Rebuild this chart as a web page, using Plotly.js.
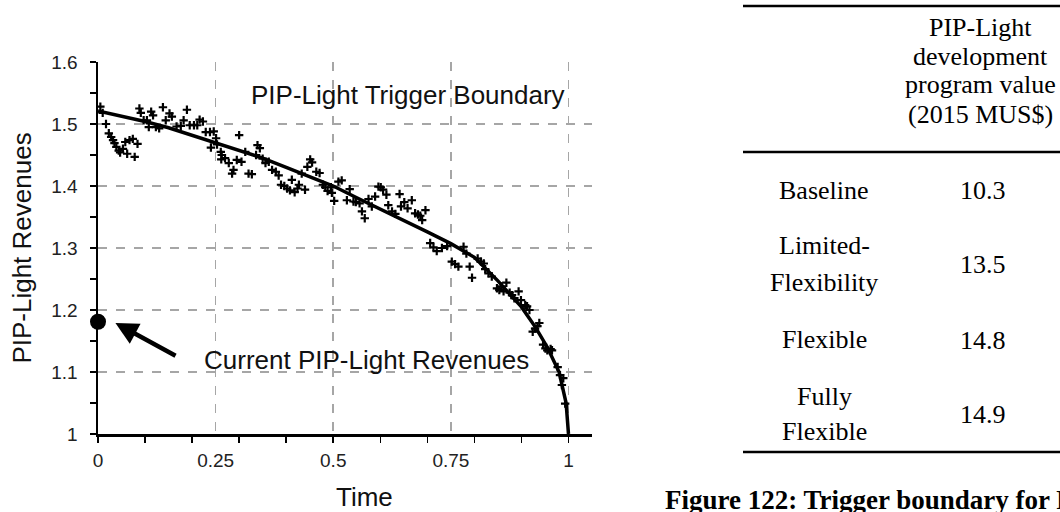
<!DOCTYPE html>
<html>
<head>
<meta charset="utf-8">
<script src="https://cdn.plot.ly/plotly-3.0.1.min.js"></script>
<style>html,body{margin:0;padding:0;background:#fff;}#chart{width:1060px;height:512px;}</style>
</head>
<body>
<div id="chart"></div>
<script>
// ---- Data ----
const scatterX = [0.005,0.010,0.017,0.023,0.028,0.032,0.035,0.039,0.044,0.047,0.053,0.058,0.062,0.067,0.074,0.078,0.084,0.088,0.091,0.097,0.104,0.108,0.113,0.117,0.123,0.130,0.138,0.144,0.152,0.157,0.167,0.176,0.182,0.189,0.195,0.204,0.211,0.216,0.223,0.229,0.238,0.240,0.246,0.251,0.253,0.261,0.263,0.262,0.270,0.278,0.285,0.288,0.295,0.300,0.305,0.313,0.320,0.327,0.336,0.339,0.344,0.350,0.356,0.363,0.370,0.378,0.384,0.389,0.396,0.402,0.408,0.412,0.418,0.424,0.427,0.433,0.440,0.445,0.451,0.455,0.464,0.471,0.478,0.483,0.488,0.495,0.497,0.502,0.511,0.518,0.529,0.535,0.543,0.548,0.556,0.561,0.567,0.575,0.582,0.589,0.596,0.601,0.606,0.613,0.617,0.625,0.632,0.641,0.644,0.651,0.658,0.667,0.674,0.680,0.685,0.689,0.696,0.706,0.713,0.720,0.731,0.742,0.752,0.759,0.766,0.777,0.783,0.790,0.795,0.807,0.814,0.820,0.823,0.830,0.837,0.848,0.853,0.858,0.862,0.868,0.875,0.880,0.885,0.894,0.899,0.908,0.912,0.917,0.924,0.929,0.934,0.938,0.946,0.951,0.955,0.962,0.965,0.977,0.982,0.986,0.989,0.993];
const scatterY = [1.528,1.518,1.500,1.485,1.479,1.474,1.469,1.463,1.457,1.454,1.460,1.471,1.452,1.474,1.476,1.447,1.468,1.525,1.518,1.506,1.506,1.495,1.520,1.514,1.495,1.493,1.527,1.506,1.517,1.512,1.496,1.497,1.506,1.523,1.498,1.498,1.498,1.507,1.504,1.487,1.487,1.462,1.488,1.477,1.467,1.455,1.450,1.443,1.445,1.437,1.420,1.426,1.442,1.482,1.439,1.455,1.420,1.419,1.450,1.466,1.461,1.444,1.437,1.439,1.426,1.423,1.417,1.402,1.400,1.396,1.393,1.410,1.390,1.396,1.402,1.420,1.394,1.431,1.443,1.438,1.423,1.421,1.402,1.398,1.392,1.398,1.389,1.376,1.407,1.409,1.377,1.395,1.375,1.374,1.372,1.359,1.348,1.379,1.367,1.383,1.399,1.398,1.394,1.386,1.369,1.359,1.355,1.387,1.367,1.374,1.364,1.377,1.356,1.354,1.352,1.345,1.361,1.308,1.301,1.295,1.300,1.303,1.278,1.274,1.270,1.302,1.291,1.270,1.252,1.283,1.278,1.275,1.266,1.259,1.254,1.235,1.232,1.238,1.230,1.244,1.228,1.224,1.219,1.230,1.216,1.208,1.206,1.200,1.165,1.170,1.174,1.179,1.144,1.138,1.135,1.137,1.135,1.108,1.095,1.079,1.090,1.049];

const boundaryX = [0,0.05,0.1,0.15,0.2,0.25,0.3,0.35,0.4,0.45,0.5,0.55,0.6,0.65,0.7,0.75,0.8,0.85,0.9,0.93,0.955,0.98,0.995,1];
const boundaryY = [1.521,1.513,1.504,1.494,1.482,1.470,1.458,1.445,1.430,1.415,1.400,1.381,1.363,1.345,1.326,1.307,1.285,1.247,1.205,1.172,1.140,1.100,1.050,1.000];

const currentX = [0];
const currentY = [1.181];

const xTickMarks = [0,0.1,0.2,0.3,0.4,0.5,0.6,0.7,0.8,0.9,1];
const xLabelVals = [0,0.25,0.5,0.75,1];
const xLabelText = ['0','0.25','0.5','0.75','1'];

const headerLines = ['PIP-Light','development','program value','(2015 MUS$)'];
const rowLabels = [['Baseline'],['Limited-','Flexibility'],['Flexible'],['Fully','Flexible']];
const rowValues = [10.3,13.5,14.8,14.9];
const captionText = 'Figure 122: Trigger boundary for PIP-Light';

// ---- Layout helpers (pixel -> paper) ----
const ML = 98, MR = 468, MT = 62, MB = 78, W = 1060, H = 512;
const PW = W - ML - MR, PH = H - MT - MB;
const px = x => (x - ML) / PW;
const py = y => (H - MB - y) / PH;

const sans = 'Liberation Sans, Arial, sans-serif';
const serif = 'Liberation Serif, Times New Roman, serif';

const traces = [
  {x: scatterX, y: scatterY, type: 'scatter', mode: 'markers', hoverinfo: 'skip',
   marker: {symbol: 'cross-thin', size: 6, color: '#000', line: {width: 2.2, color: '#000'}}},
  {x: boundaryX, y: boundaryY, type: 'scatter', mode: 'lines', hoverinfo: 'skip',
   line: {color: '#000', width: 3.5}},
  {x: currentX, y: currentY, xaxis: 'x2', yaxis: 'y', type: 'scatter', mode: 'markers', cliponaxis: false, hoverinfo: 'skip',
   marker: {symbol: 'circle', size: 16, color: '#000'}}
];

const annotations = [
  {xref: 'x', yref: 'y', x: 0.322, y: 1.546, xanchor: 'left', yanchor: 'middle', showarrow: false,
   text: 'PIP-Light Trigger Boundary', font: {family: sans, size: 26, color: '#111'}},
  {xref: 'x', yref: 'y', x: 0.220, y: 1.119, xanchor: 'left', yanchor: 'middle', showarrow: false,
   text: 'Current PIP-Light Revenues', font: {family: sans, size: 26, color: '#111'}},
  {xref: 'x', yref: 'y', x: 0.037, y: 1.179, axref: 'x', ayref: 'y', ax: 0.168, ay: 1.125,
   text: '', showarrow: true, arrowhead: 2, arrowsize: 1, arrowwidth: 4.5, arrowcolor: '#000'},
  {xref: 'paper', yref: 'paper', x: px(364), y: py(497), xanchor: 'center', yanchor: 'middle', showarrow: false,
   text: 'Time', font: {family: sans, size: 26, color: '#111'}}
];

const headerY = [27, 56, 85, 114];
headerLines.forEach((t, i) => annotations.push({xref: 'paper', yref: 'paper', x: px(980), y: py(headerY[i]),
  xanchor: 'center', yanchor: 'middle', showarrow: false, text: t, font: {family: serif, size: 26, color: '#000'}}));

const rowLineY = [[190.5], [245, 282], [339.5], [396, 431]];
const rowValueY = [190, 264, 340, 414];
rowLabels.forEach((lines, r) => {
  lines.forEach((t, j) => annotations.push({xref: 'paper', yref: 'paper', x: px(824), y: py(rowLineY[r][j]),
    xanchor: 'center', yanchor: 'middle', showarrow: false, text: t, font: {family: serif, size: 26, color: '#000'}}));
  annotations.push({xref: 'paper', yref: 'paper', x: px(983), y: py(rowValueY[r]),
    xanchor: 'center', yanchor: 'middle', showarrow: false, text: rowValues[r].toFixed(1),
    font: {family: serif, size: 26, color: '#000'}});
});

annotations.push({xref: 'paper', yref: 'paper', x: px(663), y: py(500), xanchor: 'left', yanchor: 'middle',
  showarrow: false, text: '<b>' + captionText + '</b>', font: {family: serif, size: 27, color: '#000'}});

const rule = (y, w) => ({type: 'line', xref: 'paper', yref: 'paper', x0: px(743), x1: px(1062), y0: py(y), y1: py(y),
  line: {color: '#000', width: w}});
const shapes = [rule(6, 2.5), rule(152, 2.5), rule(452, 2.5)];

const gridStyle = {showgrid: true, gridcolor: '#a6a6a6', gridwidth: 1.5, griddash: 'dash'};

const layout = {
  width: W, height: H,
  margin: {l: ML, r: MR, t: MT, b: MB, pad: 0},
  paper_bgcolor: '#fff', plot_bgcolor: 'rgba(0,0,0,0)',
  showlegend: false,
  xaxis: {range: [0, 1.05], showline: true, linecolor: '#000', linewidth: 2.5, zeroline: false,
          showgrid: false, ticks: 'outside', tickmode: 'array', tickvals: xTickMarks, ticklen: 6,
          tickwidth: 1.5, tickcolor: '#000', showticklabels: false, fixedrange: true, layer: 'above traces'},
  xaxis2: Object.assign({overlaying: 'x', anchor: 'y', side: 'bottom', range: [0, 1.05], showline: false,
          zeroline: false, ticks: '', tickmode: 'array', tickvals: xLabelVals, ticktext: xLabelText,
          ticklabelstandoff: 13, tickfont: {family: sans, size: 19, color: '#222'}}, gridStyle),
  yaxis: Object.assign({range: [1, 1.6], showline: true, linecolor: '#000', linewidth: 2.5, zeroline: false,
          ticks: 'outside', tick0: 1, dtick: 0.1, ticklen: 6, tickwidth: 1.5, tickcolor: '#000',
          ticklabelstandoff: 8, tickfont: {family: sans, size: 19, color: '#222'},
          minor: {dtick: 0.05, tick0: 1, ticks: 'outside', ticklen: 6, tickwidth: 1.5, tickcolor: '#000', showgrid: false},
          title: {text: 'PIP-Light Revenues', font: {family: sans, size: 26, color: '#111'}, standoff: 12}}, gridStyle),
  annotations: annotations,
  shapes: shapes
};

Plotly.newPlot('chart', traces, layout, {staticPlot: true, displayModeBar: false});
</script>
</body>
</html>
